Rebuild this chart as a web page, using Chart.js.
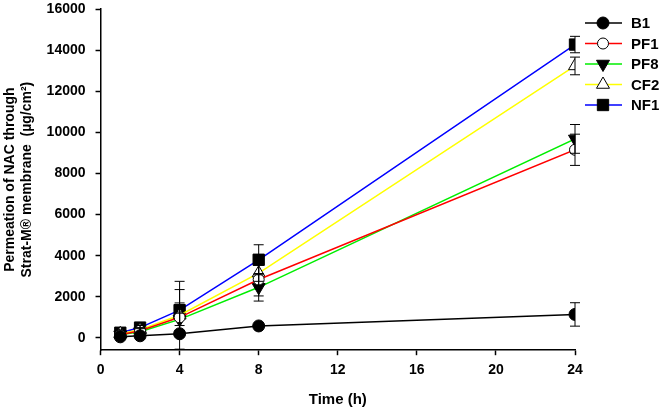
<!DOCTYPE html>
<html>
<head>
<meta charset="utf-8">
<script src="https://cdn.jsdelivr.net/npm/chart.js@4.4.1/dist/chart.umd.min.js"></script>
<style>
  body { margin: 0; background: #fff; }
  #wrap { width: 661px; height: 409px; }
</style>
</head>
<body>
<div id="wrap"><canvas id="perm-chart"></canvas></div>
<script>
// sampling times (h)
const times = [1, 2, 4, 8, 24];

// cumulative permeation (ug/cm2) and SD per formulation
const b1 = [50, 100, 200, 580, 1140];
const b1Sd = [40, 60, 100, 80, 570];
const pf1 = [150, 350, 1000, 2840, 9150];
const pf1Sd = [60, 150, 700, 800, 760];
const pf8 = [150, 300, 900, 2460, 9680];
const pf8Sd = [60, 150, 300, 670, 700];
const cf2 = [200, 400, 1100, 3150, 13230];
const cf2Sd = [80, 200, 1650, 400, 430];
const nf1 = [250, 500, 1350, 3800, 14270];
const nf1Sd = [100, 250, 1000, 730, 400];

const xTicks = [0, 4, 8, 12, 16, 20, 24];
const yTicks = [0, 2000, 4000, 6000, 8000, 10000, 12000, 14000, 16000];

const FONT = "'Liberation Sans', Arial, sans-serif";
Chart.defaults.font.family = FONT;
Chart.defaults.color = "#000";

function pts(vals) {
	return vals.map((v, i) => ({ x: times[i], y: v }));
}
const sds = [b1Sd, pf1Sd, pf8Sd, cf2Sd, nf1Sd];

// error bars drawn over the markers, like the original
const errorBars = {
	id: "errorBars",
	afterDatasetsDraw(chart) {
		const c = chart.ctx;
		const xs = chart.scales.x, ys = chart.scales.y;
		c.save();
		c.strokeStyle = "#000";
		c.lineWidth = 1;
		chart.data.datasets.forEach((ds, d) => {
			ds.data.forEach((p, i) => {
				const sd = sds[d][i];
				const px = xs.getPixelForValue(p.x);
				const top = ys.getPixelForValue(p.y + sd);
				const bot = ys.getPixelForValue(p.y - sd);
				c.beginPath();
				c.moveTo(px, top); c.lineTo(px, bot);
				c.moveTo(px - 5, top); c.lineTo(px + 5, top);
				c.moveTo(px - 5, bot); c.lineTo(px + 5, bot);
				c.stroke();
			});
		});
		c.restore();
	}
};

// legend to the right of the plot: line + marker + label
const sideLegend = {
	id: "sideLegend",
	afterDraw(chart) {
		const c = chart.ctx;
		const x0 = chart.chartArea.right + 10;
		c.save();
		chart.data.datasets.forEach((ds, i) => {
			const y = 23 + i * 20.5;
			c.strokeStyle = ds.borderColor;
			c.lineWidth = 1.5;
			c.beginPath();
			c.moveTo(x0, y); c.lineTo(x0 + 37, y);
			c.stroke();
			c.fillStyle = ds.pointBackgroundColor;
			c.strokeStyle = "#000";
			c.lineWidth = 1;
			Chart.helpers.drawPoint(c, {
				pointStyle: ds.pointStyle,
				radius: ds.pointRadius,
				rotation: ds.pointRotation || 0,
				borderWidth: 1
			}, x0 + 18, y);
			c.fillStyle = "#000";
			c.font = "bold 15px " + FONT;
			c.textBaseline = "middle";
			c.fillText(ds.label, x0 + 46, y + 1);
		});
		c.restore();
	}
};

function series(label, vals, color, style, radius, fill, rot) {
	return {
		label: label,
		data: pts(vals),
		borderColor: color,
		backgroundColor: color,
		borderWidth: 1.5,
		pointStyle: style,
		pointRadius: radius,
		pointHoverRadius: radius,
		pointRotation: rot || 0,
		pointBackgroundColor: fill,
		pointBorderColor: "#000",
		pointBorderWidth: 1,
		tension: 0
	};
}

const chart = new Chart(document.getElementById("perm-chart"), {
	type: "line",
	data: {
		datasets: [
			series("B1", b1, "#000000", "circle", 6, "#000"),
			series("PF1", pf1, "#ff0000", "circle", 5.5, "#fff"),
			series("PF8", pf8, "#00ee00", "triangle", 7.5, "#000", 180),
			series("CF2", cf2, "#ffff00", "triangle", 7.5, "#fff"),
			series("NF1", nf1, "#0000ff", "rect", 8, "#000")
		]
	},
	options: {
		responsive: true,
		maintainAspectRatio: false,
		animation: false,
		layout: { padding: { left: 0, right: 86, top: 4, bottom: 0 } },
		plugins: {
			legend: { display: false },
			tooltip: { enabled: false }
		},
		scales: {
			x: {
				type: "linear",
				min: 0,
				max: 24,
				afterBuildTicks: (a) => { a.ticks = xTicks.map(v => ({ value: v })); },
				ticks: { font: { size: 14, weight: "bold" }, padding: 7, maxRotation: 0 },
				grid: { drawOnChartArea: false, tickLength: 5, color: "#000", tickWidth: 1.5 },
				border: { color: "#000", width: 1.5 },
				title: {
					display: true,
					text: "Time (h)",
					font: { size: 15, weight: "bold" },
					padding: { top: 5, bottom: 0 }
				}
			},
			y: {
				min: -600,
				max: 16000,
				afterBuildTicks: (a) => { a.ticks = yTicks.map(v => ({ value: v })); },
				afterFit: (s) => { s.paddingTop = 0; s.paddingBottom = 0; },
				ticks: {
					font: { size: 14, weight: "bold" },
					padding: 10,
					callback: (v) => String(v)
				},
				grid: { drawOnChartArea: false, tickLength: 5, color: "#000", tickWidth: 1.5 },
				border: { color: "#000", width: 1.5 },
				title: {
					display: true,
					text: ["Permeation of NAC through", "Strat-M\u00AE membrane  (\u00B5g/cm\u00B2)"],
					font: { size: 14, weight: "bold", lineHeight: 1.2 },
					padding: { top: 2, bottom: 1 }
				}
			}
		}
	},
	plugins: [errorBars, sideLegend]
});
</script>
</body>
</html>
